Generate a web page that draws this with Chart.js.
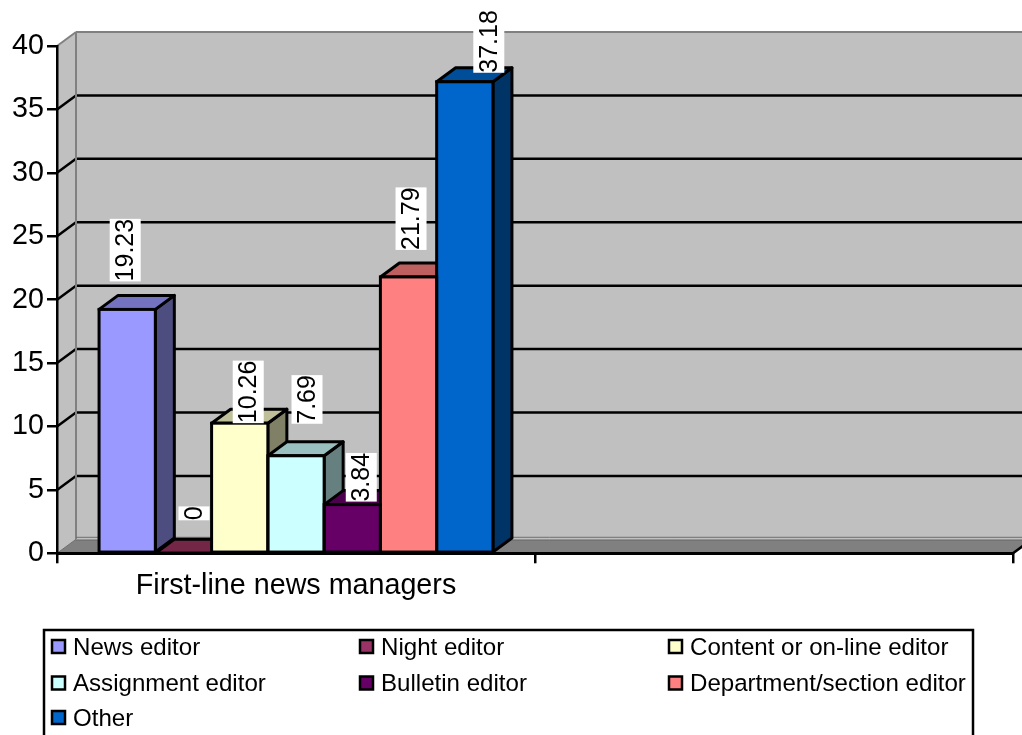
<!DOCTYPE html>
<html>
<head>
<meta charset="utf-8">
<title>First-line news managers</title>
<script src="https://cdn.jsdelivr.net/npm/chart.js@4/dist/chart.umd.min.js"></script>
<style>
html, body { margin: 0; padding: 0; background: #fff; overflow: hidden; }
canvas { display: block; }
</style>
</head>
<body>
<canvas id="chart" width="1022" height="735"></canvas>
<script>
// Data
const categories = ["First-line news managers", ""];
const seriesNames = ["News editor", "Night editor", "Content or on-line editor", "Assignment editor", "Bulletin editor", "Department/section editor", "Other"];
const newsEditor = [19.23, null];
const nightEditor = [0, null];
const contentEditor = [10.26, null];
const assignmentEditor = [7.69, null];
const bulletinEditor = [3.84, null];
const departmentEditor = [21.79, null];
const otherEditor = [37.18, null];
const seriesValues = [newsEditor, nightEditor, contentEditor, assignmentEditor, bulletinEditor, departmentEditor, otherEditor];
const yTicks = [0, 5, 10, 15, 20, 25, 30, 35, 40];

// Styles
const frontColors = ["#9999ff", "#993366", "#ffffcc", "#ccffff", "#660066", "#ff8080", "#0066cc"];
const topColors = ["#7373bf", "#732645", "#bfbf99", "#99bfbf", "#4d004d", "#bf6060", "#004d99"];
const sideColors = ["#4d4d80", "#4d1a33", "#808066", "#668080", "#330033", "#804040", "#003366"];
const DEPTH_X = 19;
const DEPTH_Y = 14;
const FONT = '"Liberation Sans", Arial, sans-serif';

// Value label placement relative to each bar: [shift from bar centre, gap above bar top]
const labelPlacement = [[-2, 28], [10.5, 33], [8.5, 0], [11, 32], [9, 3], [2.5, 27], [24, 9]];

// Legend layout
const legendBox = { x: 44, y: 630, right: 973, bottom: 740 };
const legendColumns = [52, 360, 669];
const legendRows = [640, 676.5, 711];

function polygon(ctx, pts, fill, stroke, lineWidth) {
    ctx.beginPath();
    pts.forEach((p, i) => i ? ctx.lineTo(p[0], p[1]) : ctx.moveTo(p[0], p[1]));
    ctx.closePath();
    if (fill) {
        ctx.fillStyle = fill;
        ctx.fill();
    }
    if (stroke) {
        ctx.strokeStyle = stroke;
        ctx.lineWidth = lineWidth;
        ctx.stroke();
    }
}

function line(ctx, x1, y1, x2, y2, color, width) {
    ctx.beginPath();
    ctx.moveTo(x1, y1);
    ctx.lineTo(x2, y2);
    ctx.strokeStyle = color;
    ctx.lineWidth = width;
    ctx.stroke();
}

// Back wall, side wall, floor and gridlines
const wallsPlugin = {
    id: "walls",
    beforeDraw(chart) {
        const ctx = chart.ctx;
        const y = chart.scales.y;
        const a = chart.chartArea;
        const yTop = y.getPixelForValue(40);
        const yZero = y.getPixelForValue(0);
        ctx.save();
        ctx.lineJoin = "round";

        polygon(ctx, [[a.left + DEPTH_X, yTop - DEPTH_Y], [a.right + DEPTH_X, yTop - DEPTH_Y], [a.right + DEPTH_X, yZero - DEPTH_Y], [a.left + DEPTH_X, yZero - DEPTH_Y]], "#c0c0c0");
        polygon(ctx, [[a.left, yTop], [a.left + DEPTH_X, yTop - DEPTH_Y], [a.left + DEPTH_X, yZero - DEPTH_Y], [a.left, yZero]], "#c0c0c0");
        polygon(ctx, [[a.left, yZero], [a.left + DEPTH_X, yZero - DEPTH_Y], [a.right + DEPTH_X, yZero - DEPTH_Y], [a.right, yZero]], "#808080");

        yTicks.slice(1, -1).forEach(v => {
            const py = y.getPixelForValue(v);
            line(ctx, a.left, py, a.left + DEPTH_X, py - DEPTH_Y, "#000", 2.5);
            line(ctx, a.left + DEPTH_X, py - DEPTH_Y, a.right + DEPTH_X, py - DEPTH_Y, "#000", 2.5);
        });

        // wall edges
        line(ctx, a.left, yTop, a.left + DEPTH_X, yTop - DEPTH_Y, "#808080", 2);
        line(ctx, a.left + DEPTH_X, yTop - DEPTH_Y, a.right + DEPTH_X, yTop - DEPTH_Y, "#808080", 2);
        line(ctx, a.left + DEPTH_X, yTop - DEPTH_Y, a.left + DEPTH_X, yZero - DEPTH_Y, "#808080", 2);
        line(ctx, a.left, yZero, a.left + DEPTH_X, yZero - DEPTH_Y, "#6e6e6e", 1);
        line(ctx, a.left + DEPTH_X, yZero - DEPTH_Y - 2, a.right + DEPTH_X, yZero - DEPTH_Y - 2, "#6e6e6e", 1);
        line(ctx, a.left + DEPTH_X, yZero - DEPTH_Y + 1, a.right + DEPTH_X, yZero - DEPTH_Y + 1, "#707070", 1);
        line(ctx, a.right, yZero, a.right + DEPTH_X, yZero - DEPTH_Y, "#000", 2.5);
        ctx.restore();
    },
    // Side and top faces go behind the bars the library draws
    beforeDatasetsDraw(chart) {
        const ctx = chart.ctx;
        ctx.save();
        ctx.lineJoin = "round";
        seriesValues.forEach((values, i) => {
            const bar = chart.getDatasetMeta(i).data[0];
            const left = bar.x - bar.width / 2;
            const right = bar.x + bar.width / 2;
            polygon(ctx, [[right, bar.y], [right + DEPTH_X, bar.y - DEPTH_Y], [right + DEPTH_X, bar.base - DEPTH_Y], [right, bar.base]], sideColors[i], "#000", 3);
            polygon(ctx, [[left, bar.y], [left + DEPTH_X, bar.y - DEPTH_Y], [right + DEPTH_X, bar.y - DEPTH_Y], [right, bar.y]], topColors[i], "#000", 3);
        });
        ctx.restore();
    },
    // Bar outlines, value labels and legend
    afterDatasetsDraw(chart) {
        const ctx = chart.ctx;
        ctx.save();
        seriesValues.forEach((values, i) => {
            const bar = chart.getDatasetMeta(i).data[0];
            ctx.strokeStyle = "#000";
            ctx.lineWidth = 3;
            ctx.strokeRect(bar.x - bar.width / 2, bar.y, bar.width, bar.base - bar.y);
        });
        seriesValues.forEach((values, i) => {
            const bar = chart.getDatasetMeta(i).data[0];
            const text = String(values[0]);
            ctx.font = "25px " + FONT;
            const w = ctx.measureText(text).width;
            const cx = bar.x + labelPlacement[i][0];
            const bottom = bar.y - labelPlacement[i][1];
            ctx.fillStyle = "#fff";
            ctx.fillRect(cx - 15.5, bottom - w, 31, w);
            ctx.save();
            ctx.translate(cx, bottom - w / 2);
            ctx.rotate(-Math.PI / 2);
            ctx.fillStyle = "#000";
            ctx.textAlign = "center";
            ctx.textBaseline = "middle";
            ctx.fillText(text, 0, 1);
            ctx.restore();
        });
        ctx.restore();
    },
    afterDraw(chart) {
        const ctx = chart.ctx;
        ctx.save();
        ctx.strokeStyle = "#000";
        ctx.lineWidth = 2.5;
        ctx.strokeRect(legendBox.x, legendBox.y, legendBox.right - legendBox.x, legendBox.bottom - legendBox.y);
        ctx.font = "24.1px " + FONT;
        ctx.textBaseline = "middle";
        seriesNames.forEach((name, i) => {
            const x = legendColumns[i % 3];
            const y = legendRows[Math.floor(i / 3)];
            ctx.fillStyle = frontColors[i];
            ctx.lineWidth = 2.5;
            ctx.fillRect(x, y, 13, 13);
            ctx.strokeRect(x, y, 13, 13);
            ctx.fillStyle = "#000";
            ctx.fillText(name, x + 21, y + 8);
        });
        ctx.restore();
    }
};

new Chart(document.getElementById("chart"), {
    type: "bar",
    data: {
        labels: categories,
        datasets: seriesNames.map((name, i) => ({
            label: name,
            data: seriesValues[i],
            backgroundColor: frontColors[i],
            borderWidth: 0,
            barPercentage: 1,
            categoryPercentage: 0.824
        }))
    },
    options: {
        responsive: false,
        animation: false,
        layout: { padding: { top: 46, right: 9, left: 0, bottom: 0 } },
        plugins: {
            legend: { display: false },
            tooltip: { enabled: false },
            title: { display: false }
        },
        scales: {
            x: {
                grid: { drawOnChartArea: false, drawTicks: true, tickLength: 10, color: "#000", lineWidth: 2.5 },
                border: { color: "#000", width: 3 },
                ticks: { color: "#000", font: { family: FONT, size: 28.7 }, padding: 6, maxRotation: 0, autoSkip: false },
                afterFit(scale) { scale.height = 181.7; }
            },
            y: {
                min: 0,
                max: 40,
                afterBuildTicks(scale) { scale.ticks = yTicks.map(v => ({ value: v })); },
                grid: { drawOnChartArea: false, drawTicks: true, tickLength: 10, color: "#000", lineWidth: 2.5 },
                border: { color: "#000", width: 2.5 },
                ticks: { color: "#000", font: { family: FONT, size: 28.7 }, padding: 3 },
                afterFit(scale) { scale.width = 57; }
            }
        }
    },
    plugins: [wallsPlugin]
});
</script>
</body>
</html>
